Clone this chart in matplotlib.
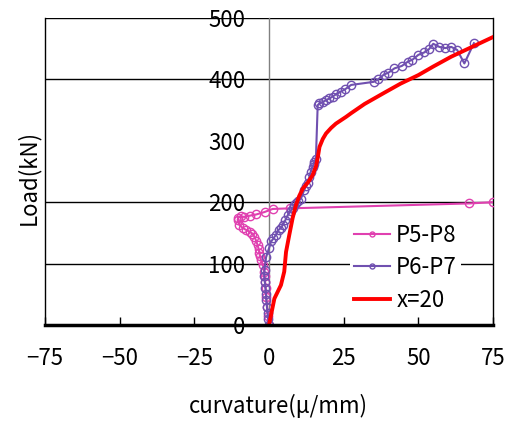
import matplotlib
matplotlib.use("Agg")
from matplotlib import pyplot as plt

plt.rcParams['font.family'] = ['Noto Sans CJK JP', 'DejaVu Sans']

# P5-P8 (pink, open circles)
p58_x = [0, -0.3, -0.6, -0.9, -1.1, -1.3, -1.5, -1.6, -2.0, -2.7, -3.0, -3.2, -3.5,
         -3.8, -4.3, -4.9, -5.6, -6.5, -7.7, -8.8, -9.9, -10.5, -10.3, -9.5, -8.3,
         -6.5, -4.3, -1.5, 1.2, 7.0, 67.0, 75.0]
p58_y = [0, 15, 30, 45, 60, 70, 80, 87, 97, 106, 112, 117, 124,
         130, 137, 144, 149, 152, 155, 158, 163, 171, 175, 177, 176,
         178, 180, 184, 189, 190, 198, 200]

# P6-P7 (purple, open circles)
p67_x = [0, -0.3, -0.5, -0.7, -0.9, -1.0, -1.2, -1.4, -1.6, -1.5, -1.0, 0.0, 0.7,
         1.5, 2.3, 3.2, 4.0, 4.6, 5.5, 6.3, 7.2, 8.0, 8.5, 9.0, 9.8, 10.7, 11.8,
         12.4, 13.0, 13.5, 14.0, 14.6, 15.0, 15.2, 15.7, 16.3, 16.9, 18.0, 19.0,
         20.2, 21.3, 22.5, 24.0, 25.5, 27.5, 35.0, 36.5, 38.5, 40.0, 42.0, 44.5,
         46.5, 48.0, 50.0, 52.0, 53.5, 55.0, 57.0, 59.0, 61.0, 63.0, 65.4, 68.6]
p67_y = [0, 10, 20, 30, 40, 50, 60, 70, 80, 90, 110, 125, 136,
         141, 147, 155, 158, 163, 171, 179, 186, 190, 195, 198, 202, 206, 220,
         226, 232, 241, 250, 258, 263, 266, 271, 358, 361, 363, 366,
         369, 372, 376, 380, 384, 391, 396, 400, 408, 411, 418, 422,
         429, 432, 440, 444, 449, 458, 453, 451, 453, 448, 426, 459]

# x=20 (red line)
x20_x = [0, 1.8, 4, 5.1, 5.7, 6.8, 7.9, 9, 10.1, 11.3, 13, 14.6, 15.7, 16.4, 16.9,
         18, 19.1, 20.8, 22.4, 25.8, 27.5, 32, 38.5, 44, 50, 55, 61, 68, 75]
x20_y = [0, 43, 65, 87, 119, 147, 174, 195, 210, 222, 232, 244, 258, 275, 290,
         303, 312, 321, 328, 339, 345, 360, 378, 393, 407, 421, 437, 453, 469]

xticks = [-75, -50, -25, 0, 25, 50, 75]
yticks = [0, 100, 200, 300, 400, 500]
gridlines = [100, 200, 400, 500]

fig = plt.figure(figsize=(5.15, 4.23), dpi=100)
ax = fig.add_axes([0.0874, 0.2317, 0.8699, 0.7257])

for g in gridlines:
    ax.axhline(g, color="black", linewidth=1.0, zorder=1)
ax.axvline(-75, color="black", linewidth=1.0, clip_on=False, zorder=1)

ax.plot(p58_x, p58_y, color="#E040B0", linewidth=1.5, marker="o",
        markersize=6, markerfacecolor="none", markeredgewidth=1.0,
        label="P5-P8", zorder=3)
ax.plot(p67_x, p67_y, color="#7050B0", linewidth=1.5, marker="o",
        markersize=6, markerfacecolor="none", markeredgewidth=1.0,
        label="P6-P7", zorder=3)
ax.plot(x20_x, x20_y, color="#FF0000", linewidth=2.8, label="x=20", zorder=4)

ax.set_xlim(-75, 75)
ax.set_ylim(0, 500)
ax.set_xticks(xticks)
ax.set_yticks(yticks)

ax.spines['left'].set_position(('data', 0))
ax.spines['left'].set_color("#808080")
ax.spines['left'].set_linewidth(1.0)
ax.spines['left'].set_zorder(2)
ax.spines['top'].set_visible(False)
ax.spines['right'].set_linewidth(1.0)
ax.spines['bottom'].set_linewidth(2.5)
ax.spines['bottom'].set_zorder(5)

ax.tick_params(axis='x', direction='in', length=6, width=1, labelsize=16, pad=16)
ax.tick_params(axis='y', length=0, labelsize=16, pad=17)

ax.legend(loc="upper left", bbox_to_anchor=(0.655, 0.38), fontsize=16,
          frameon=True, edgecolor="none", facecolor="white", framealpha=1.0,
          handlelength=1.6, handletextpad=0.3, borderpad=0.2, labelspacing=0.42,
          markerscale=0.6)

fig.text(0.54, 0.04, "curvature(μ/mm)", fontsize=16, ha="center", va="center")
fig.text(0.055, 0.58, "Load(kN)", fontsize=16, ha="center", va="center",
         rotation=90)

fig.savefig("out.png", dpi=100)
